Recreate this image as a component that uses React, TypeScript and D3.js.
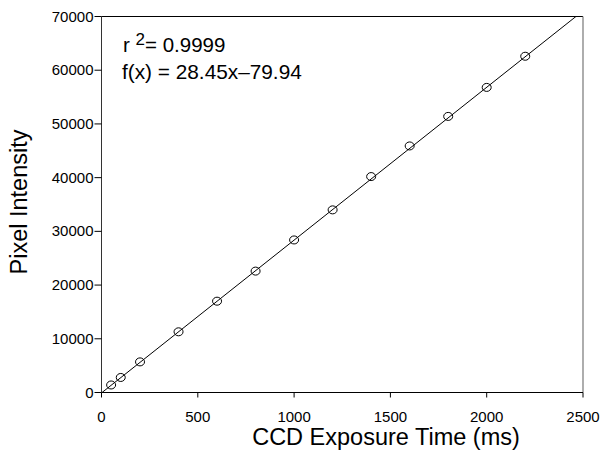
import React from "react";
import * as d3 from "d3";

const exposure = [50, 100, 200, 400, 600, 800, 1000, 1200, 1400, 1600, 1800, 2000, 2200];
const intensity = [1400, 2800, 5700, 11300, 17000, 22600, 28400, 34000, 40200, 45900, 51400, 56800, 62600];
const xTicks = [0, 500, 1000, 1500, 2000, 2500];
const yTicks = [0, 10000, 20000, 30000, 40000, 50000, 60000, 70000];
const slope = 28.45;
const intercept = -79.94;

export default function App() {
  const W = 605, H = 451;
  const m = { l: 101.5, r: 583, t: 16.5, b: 392.5 };
  const x = d3.scaleLinear().domain([0, 2500]).range([m.l, m.r]);
  const y = d3.scaleLinear().domain([0, 70000]).range([m.b, m.t]);
  const font = "'Liberation Sans', Arial, sans-serif";
  const fitX = [0, 2500];
  const line = d3.line<number>().x((d) => x(d)).y((d) => y(slope * d + intercept));
  return (
    <svg width={W} height={H} style={{ position: "absolute", left: 0, top: 0 }}>
      <rect width={W} height={H} fill="#fff" />
      <defs>
        <clipPath id="pa">
          <rect x={m.l} y={m.t} width={m.r - m.l} height={m.b - m.t} />
        </clipPath>
      </defs>
      <line x1={m.l} x2={m.r} y1={m.t} y2={m.t} stroke="#000" strokeWidth={1} />
      <line x1={m.r} x2={m.r} y1={m.t} y2={m.b} stroke="#777" strokeWidth={1.2} />
      <line x1={m.l} x2={m.r} y1={m.b} y2={m.b} stroke="#000" strokeWidth={1} />
      <line x1={m.l} x2={m.l} y1={m.t} y2={m.b} stroke="#333" strokeWidth={1} />
      {xTicks.map((t) => (
        <g key={t}>
          <line x1={x(t)} x2={x(t)} y1={m.b} y2={m.b + 5} stroke="#000" />
          <text x={x(t)} y={421.5} textAnchor="middle" fontFamily={font} fontSize={15}>{t}</text>
        </g>
      ))}
      {yTicks.map((t) => (
        <g key={t}>
          <line x1={m.l - 7} x2={m.l} y1={y(t)} y2={y(t)} stroke="#000" />
          <text x={m.l - 8} y={y(t) + 5} textAnchor="end" fontFamily={font} fontSize={15}>{t}</text>
        </g>
      ))}
      <g clipPath="url(#pa)">
        <path d={line(fitX) || ""} stroke="#000" strokeWidth={1} fill="none" />
      </g>
      {exposure.map((e, i) => (
        <ellipse key={e} cx={x(e)} cy={y(intensity[i])} rx={4.5} ry={4} fill="none" stroke="#000" strokeWidth={1} />
      ))}
      <text x={123} y={52} fontFamily={font} fontSize={20.5}>
        r <tspan dy={-7} fontSize={17}>2</tspan><tspan dy={7}>= 0.9999</tspan>
      </text>
      <text x={122} y={79} fontFamily={font} fontSize={20.8}>f(x) = 28.45x–79.94</text>
      <text x={386} y={445} textAnchor="middle" fontFamily={font} fontSize={23.5}>CCD Exposure Time (ms)</text>
      <text transform="translate(27,202) rotate(-90)" textAnchor="middle" fontFamily={font} fontSize={23.5}>Pixel Intensity</text>
    </svg>
  );
}
